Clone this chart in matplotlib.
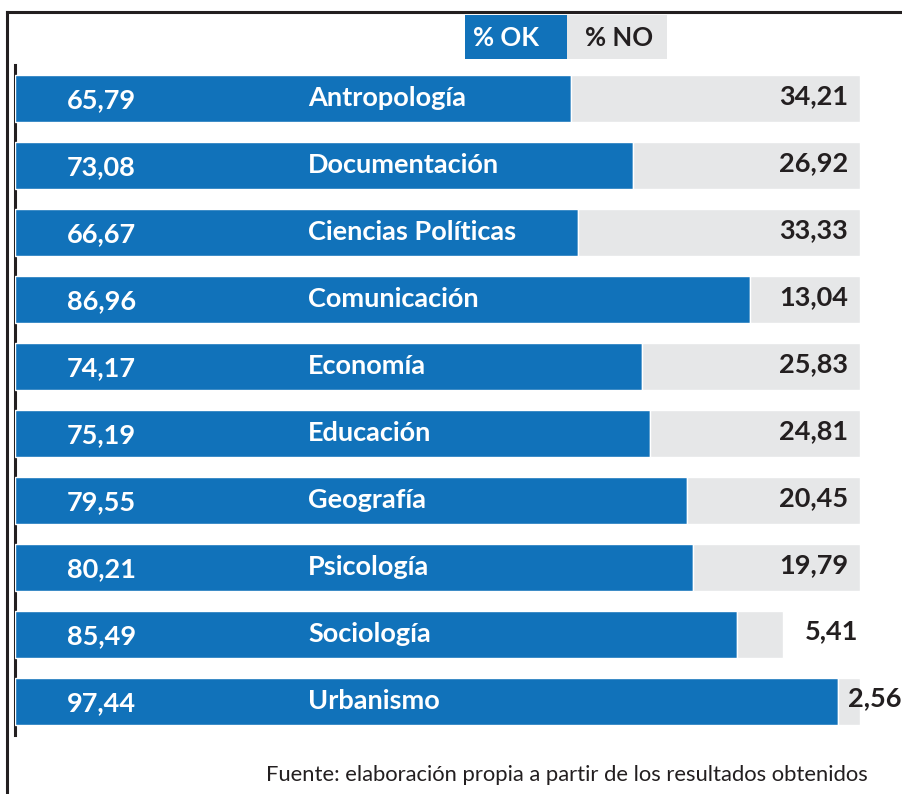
import numpy as np
import matplotlib
matplotlib.use("Agg")
from matplotlib import pyplot as plt
from matplotlib.patches import Rectangle
from matplotlib.lines import Line2D

categories = ["Antropología", "Documentación", "Ciencias Políticas", "Comunicación",
              "Economía", "Educación", "Geografía", "Psicología", "Sociología", "Urbanismo"]
pct_ok = [65.79, 73.08, 66.67, 86.96, 74.17, 75.19, 79.55, 80.21, 85.49, 97.44]
pct_no = [34.21, 26.92, 33.33, 13.04, 25.83, 24.81, 20.45, 19.79, 5.41, 2.56]
ok_labels = ["65,79", "73,08", "66,67", "86,96", "74,17", "75,19", "79,55", "80,21", "85,49", "97,44"]
no_labels = ["34,21", "26,92", "33,33", "13,04", "25,83", "24,81", "20,45", "19,79", "5,41", "2,56"]
source = "Fuente: elaboración propia a partir de los resultados obtenidos"

BLUE = "#1172ba"
GRAY = "#e6e7e8"
DARK = "#231f20"
FONT = ["Lato", "DejaVu Sans"]
FS = 19.5

W, H = 902, 794
fig = plt.figure(figsize=(W / 100, H / 100), dpi=100)
plt.rcParams['font.family'] = FONT

# axes: x 0..100 maps to px 15..860, bars from y 65 to 735
ax = fig.add_axes([15 / W, 1 - 735 / H, 845 / W, 670 / H])
y = np.arange(len(categories))
ax.barh(y, pct_ok, height=0.71, color=BLUE, edgecolor="white", linewidth=1, zorder=3)
ax.barh(y, pct_no, left=pct_ok, height=0.71, color=GRAY, edgecolor="white", linewidth=1, zorder=3)
ax.set_xlim(0, 100)
ax.set_ylim(len(categories) - 0.5, -0.5)
ax.axis("off")
ax.plot([0, 0], [-0.5, len(categories) - 0.5], color=DARK, lw=2.2, zorder=2, clip_on=False)

for i in range(len(categories)):
    ax.text(10.2, y[i] + 0.03, ok_labels[i], color="white", fontsize=FS, fontweight="bold",
            ha="center", va="center", zorder=5)
    ax.text(34.7, y[i] - 0.01, categories[i], color="white", fontsize=FS, fontweight="bold",
            ha="left", va="center", zorder=5)
    total = pct_ok[i] + pct_no[i]
    if pct_no[i] < 10:
        x = min(total + 2.6, 98.6)
        ax.text(x, y[i] - 0.05, no_labels[i], color=DARK, fontsize=FS, fontweight="bold",
                ha="left", va="center", zorder=5, clip_on=False)
    else:
        ax.text(98.6, y[i] - 0.03, no_labels[i], color=DARK, fontsize=FS, fontweight="bold",
                ha="right", va="center", zorder=5)

# legend boxes at top
fig.patches.append(Rectangle((465 / W, 1 - 59 / H), 102 / W, 44 / H, transform=fig.transFigure,
                             facecolor=BLUE, edgecolor="none"))
fig.patches.append(Rectangle((567 / W, 1 - 59 / H), 100 / W, 44 / H, transform=fig.transFigure,
                             facecolor=GRAY, edgecolor="none"))
fig.text(473 / W, 1 - 38 / H, "% OK", color="white", fontsize=18.5, fontweight="bold", va="center")
fig.text(585 / W, 1 - 38 / H, "% NO", color=DARK, fontsize=18.5, fontweight="bold", va="center")

# outer frame
fig.add_artist(Line2D([7 / W, 7 / W], [0, 1 - 12 / H], color=DARK, lw=2.2))
fig.add_artist(Line2D([7 / W, 1], [1 - 12 / H, 1 - 12 / H], color=DARK, lw=2.2))

fig.text(868 / W, 1 - 775 / H, source, color=DARK, fontsize=15.8, ha="right", va="center")

fig.savefig("out.png", dpi=100)
